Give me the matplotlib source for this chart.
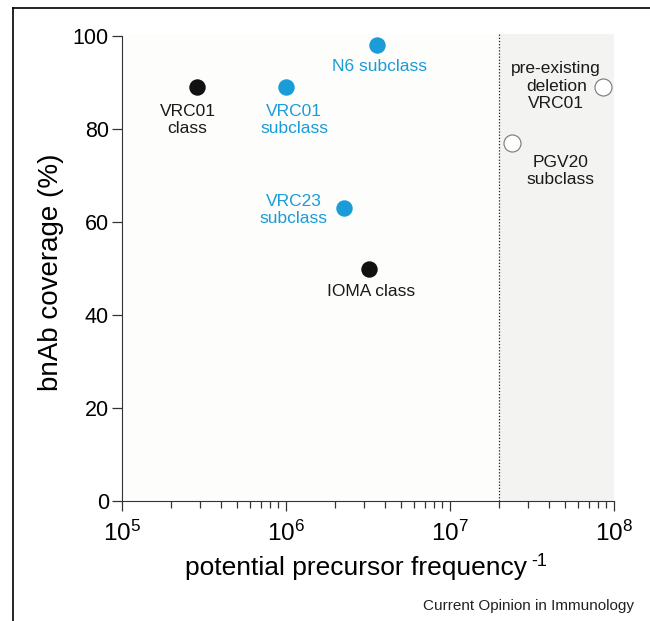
import matplotlib
matplotlib.use("Agg")
import matplotlib.pyplot as plt
from matplotlib.lines import Line2D

plt.rcParams['font.family'] = ['Liberation Sans', 'DejaVu Sans']
plt.rcParams['mathtext.fontset'] = 'custom'
plt.rcParams['mathtext.rm'] = 'Liberation Sans'
plt.rcParams['mathtext.it'] = 'Liberation Sans'

# data
labels = ["VRC01\nclass", "VRC01\nsubclass", "N6 subclass", "VRC23\nsubclass",
          "IOMA class", "pre-existing\ndeletion\nVRC01", "PGV20\nsubclass"]
freq_inv = [2.85e5, 1.0e6, 3.6e6, 2.25e6, 3.2e6, 8.6e7, 2.4e7]
coverage = [89, 89, 98, 63, 50, 89, 77]
kind = ["class", "subclass", "subclass", "subclass", "class", "open", "open"]
threshold = 2.0e7
x_ticks = [1e5, 1e6, 1e7, 1e8]
x_ticklabels = ["10$^{5}$", "10$^{6}$", "10$^{7}$", "10$^{8}$"]
y_ticks = [0, 20, 40, 60, 80, 100]
label_offsets = [(-9, -33), (8, -33), (2, -21), (-50, -2), (2, -23), (-47, 1), (48, -28)]

blue = "#1a9cd8"
colors = {"class": "#111111", "subclass": blue, "open": "white"}
text_colors = {"class": "#1a1a1a", "subclass": blue, "open": "#1a1a1a"}

fig = plt.figure(figsize=(6.5, 6.21), dpi=100)
W, H = 650, 621
ax = fig.add_axes([122 / W, 1 - 501 / H, (614 - 122) / W, (501 - 33.7) / H])
ax.set_facecolor("#fdfdfc")

ax.set_xscale("log")
ax.set_xlim(1e5, 1e8)
ax.set_ylim(0, 100.5)

ax.axvspan(threshold, 1e8, color="#f3f3f2", zorder=0, lw=0)
ax.axvline(threshold, color="#222222", ls=(0, (1, 1.5)), lw=0.9, zorder=1)

for x, y, k, lab, (dx, dy) in zip(freq_inv, coverage, kind, labels, label_offsets):
    if k == "open":
        ax.scatter([x], [y], s=150, facecolor="white", edgecolor="#777777", lw=0.8, zorder=3)
    else:
        ax.scatter([x], [y], s=140, color=colors[k], lw=0, zorder=3)
    ax.annotate(lab, xy=(x, y), xytext=(dx, dy), textcoords="offset pixels",
                ha="center", va="center", fontsize=12.5, color=text_colors[k],
                linespacing=1.2, zorder=4)

for s in ["top", "right"]:
    ax.spines[s].set_visible(False)
ax.spines["left"].set_bounds(0, 100)
ax.spines["left"].set_color("#333333")
ax.spines["bottom"].set_color("#333333")

ax.set_yticks(y_ticks)
ax.tick_params(axis="both", which="major", direction="out", length=7.5, width=0.9,
               labelsize=15.5, colors="#333333", labelcolor="black", pad=2)
ax.tick_params(axis="x", which="major", labelsize=17.5, pad=7)
ax.tick_params(axis="x", which="minor", direction="out", length=5, width=0.9, colors="#333333")
ax.set_xticks(x_ticks)
ax.set_xticklabels(x_ticklabels)

yl = ax.set_ylabel("bnAb coverage (%)", fontsize=20, labelpad=6)
yl.set_y(0.49)
xl = ax.set_xlabel("potential precursor frequency", fontsize=19, labelpad=7)

# shift xlabel slightly left to make room for superscript
fig.canvas.draw()
xl.set_x(xl.get_position()[0] - 0.025)
fig.canvas.draw()
bb = xl.get_window_extent()
fig.text((bb.x1 + 5) / W, (bb.y1 + 3) / H, "-1", fontsize=13, ha="left", va="top")

fig.text(634 / W, 1 - 606 / H, "Current Opinion in Immunology", ha="right", va="center",
         fontsize=11, color="#222222")

# frame lines
fig.add_artist(Line2D([13 / W, 1.0], [1 - 8 / H, 1 - 8 / H], color="black", lw=1.2,
                      transform=fig.transFigure))
fig.add_artist(Line2D([13 / W, 13 / W], [0, 1 - 8 / H], color="black", lw=1.2,
                      transform=fig.transFigure))

fig.savefig("out.png", dpi=100)
